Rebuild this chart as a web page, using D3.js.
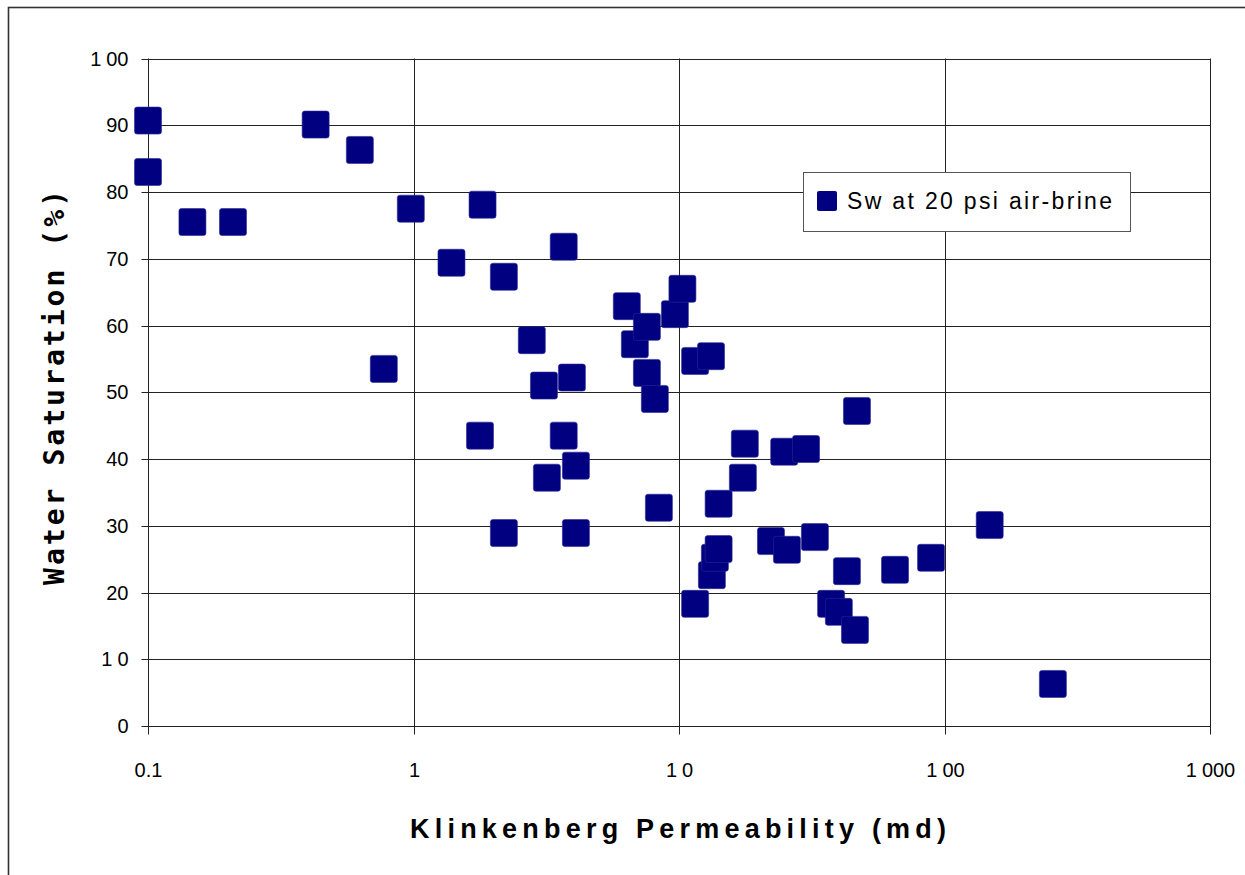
<!DOCTYPE html>
<html>
<head>
<meta charset="utf-8">
<script src="https://cdn.jsdelivr.net/npm/d3@7"></script>
<style>
  html, body { margin: 0; padding: 0; background: #fff; }
  svg { display: block; }
</style>
</head>
<body>
<svg id="chart" width="1245" height="875"></svg>
<script>
// Klinkenberg permeability (md) and water saturation (%) at 20 psi air-brine
const permeability = [
  0.1, 0.1, 0.147, 0.209, 0.428, 0.628, 0.977, 0.773, 1.39, 1.82,
  2.19, 1.78, 2.19, 2.79, 3.10, 3.18, 3.68, 3.95, 3.68, 4.09,
  4.09, 6.36, 6.82, 7.57, 7.57, 8.11, 8.40, 9.65, 10.3, 11.5,
  13.2, 11.5, 13.3, 13.65, 14.1, 14.1, 17.7, 17.4, 22.2, 24.9,
  25.5, 30.1, 32.5, 46.8, 37.4, 40.0, 42.9, 46.0, 65.1, 89.0,
  148, 256
];
const waterSaturation = [
  90.7, 83.0, 75.5, 75.5, 90.1, 86.3, 77.5, 53.5, 69.4, 78.1,
  67.3, 43.5, 28.9, 57.8, 51.0, 37.2, 71.8, 52.2, 43.5, 39.0,
  28.9, 62.9, 57.2, 52.9, 59.8, 49.0, 32.7, 61.7, 65.5, 54.7,
  55.4, 18.3, 22.6, 25.2, 26.5, 33.3, 42.3, 37.2, 27.7, 41.1,
  26.4, 41.5, 28.3, 47.2, 18.3, 17.1, 23.2, 14.4, 23.4, 25.2,
  30.1, 6.3
];
const xTickValues = [0.1, 1, 10, 100, 1000];
const xTickLabels = ["0.1", "1", "10", "100", "1000"];
const yTickValues = [0, 10, 20, 30, 40, 50, 60, 70, 80, 90, 100];
const yTickLabels = ["0", "10", "20", "30", "40", "50", "60", "70", "80", "90", "100"];
const seriesName = "Sw at 20 psi air-brine";
const xTitle = "Klinkenberg Permeability (md)";
const yTitle = "Water Saturation (%)";

const svg = d3.select("#chart");
const plot = { left: 148, right: 1210, top: 58.5, bottom: 726 };
const navy = "#000080";
const tickFont = "Arial, 'Liberation Sans', sans-serif";

const x = d3.scaleLog().domain([0.1, 1000]).range([plot.left, plot.right]);
const y = d3.scaleLinear().domain([0, 100]).range([plot.bottom, plot.top]);

// Outer chart frame (extends past the visible page on right/bottom)
svg.append("rect")
  .attr("x", 8.5).attr("y", 7.5)
  .attr("width", 1260).attr("height", 900)
  .attr("fill", "#fff")
  .attr("stroke", "#333").attr("stroke-width", 1.6);

// Gridlines
const grid = svg.append("g").attr("stroke", "#222").attr("stroke-width", 1);
grid.selectAll("line.h").data(yTickValues).join("line")
  .attr("x1", plot.left).attr("x2", plot.right)
  .attr("y1", d => Math.round(y(d)) + 0.5).attr("y2", d => Math.round(y(d)) + 0.5);
grid.selectAll("line.v").data(xTickValues).join("line")
  .attr("x1", d => Math.round(x(d)) + 0.5).attr("x2", d => Math.round(x(d)) + 0.5)
  .attr("y1", plot.top).attr("y2", plot.bottom);

// Plot area border
svg.append("rect")
  .attr("x", plot.left + 0.5).attr("y", Math.round(plot.top) + 0.5)
  .attr("width", plot.right - plot.left).attr("height", Math.round(plot.bottom) - Math.round(plot.top))
  .attr("fill", "none").attr("stroke", "#222").attr("stroke-width", 1);

// Axes via d3 axis generators
function splitDigits(sel) {
  // Render leading "1" with the wide gap used in the tick labels
  sel.each(function() {
    const t = d3.select(this);
    const s = t.text();
    if (s.length > 1 && s[0] === "1") {
      t.text(null);
      t.append("tspan").text("1");
      t.append("tspan").attr("dx", 5).text(s.slice(1));
    }
  });
}

const xAxis = d3.axisBottom(x)
  .tickValues(xTickValues)
  .tickFormat((d, i) => xTickLabels[i])
  .tickSizeInner(8).tickSizeOuter(0).tickPadding(28);
const gx = svg.append("g")
  .attr("transform", `translate(0.5,${Math.round(plot.bottom) + 0.5})`)
  .call(xAxis);
gx.select(".domain").remove();
gx.selectAll(".tick line").attr("stroke", "#222");
gx.selectAll(".tick text")
  .attr("font-family", tickFont).attr("font-size", 20).attr("fill", "#000")
  .call(splitDigits);
gx.selectAll(".tick").attr("transform", d => `translate(${Math.round(x(d))},0)`);

const yAxis = d3.axisLeft(y)
  .tickValues(yTickValues)
  .tickFormat((d, i) => yTickLabels[i])
  .tickSizeInner(7).tickSizeOuter(0).tickPadding(13);
const gy = svg.append("g")
  .attr("transform", `translate(${plot.left + 0.5},0.5)`)
  .call(yAxis);
gy.select(".domain").remove();
gy.selectAll(".tick").attr("transform", d => `translate(0,${Math.round(y(d))})`);
gy.selectAll(".tick line").attr("stroke", "#222");
gy.selectAll(".tick text")
  .attr("font-family", tickFont).attr("font-size", 20).attr("fill", "#000")
  .call(splitDigits);

// Data markers: rounded navy squares
const size = 27;
svg.append("g").selectAll("rect").data(permeability).join("rect")
  .attr("x", (d, i) => x(d) - size / 2)
  .attr("y", (d, i) => y(waterSaturation[i]) - size / 2)
  .attr("width", size).attr("height", size)
  .attr("rx", 2.5).attr("ry", 2.5)
  .attr("fill", navy)
  .attr("stroke", "#2a2a95").attr("stroke-width", 0.6);

// Legend
const legend = svg.append("g");
legend.append("rect")
  .attr("x", 803.5).attr("y", 172.5).attr("width", 327).attr("height", 59)
  .attr("fill", "#fff").attr("stroke", "#555").attr("stroke-width", 1);
legend.append("rect")
  .attr("x", 817).attr("y", 191).attr("width", 20).attr("height", 20)
  .attr("rx", 2).attr("fill", navy);
legend.append("text")
  .attr("x", 847).attr("y", 209)
  .attr("font-family", tickFont).attr("font-size", 23).attr("fill", "#000")
  .attr("textLength", 265).attr("lengthAdjust", "spacing")
  .text(seriesName);

// Axis titles
svg.append("text")
  .attr("x", 410).attr("y", 838)
  .attr("font-family", tickFont).attr("font-size", 27).attr("font-weight", "bold")
  .attr("fill", "#000")
  .attr("textLength", 536).attr("lengthAdjust", "spacing")
  .text(xTitle);

svg.append("text")
  .attr("transform", "translate(64,585) rotate(-90)")
  .attr("font-family", "'DejaVu Sans Mono', 'Liberation Mono', monospace")
  .attr("font-size", 28).attr("font-weight", "bold").attr("fill", "#000")
  .attr("textLength", 395).attr("lengthAdjust", "spacing")
  .text(yTitle);
</script>
</body>
</html>
